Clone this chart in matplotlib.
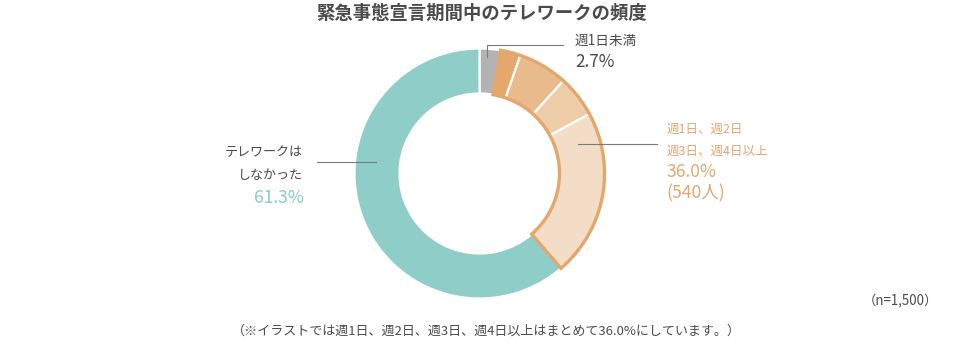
import matplotlib
matplotlib.use("Agg")
import matplotlib.pyplot as plt

plt.rcParams['font.family'] = ['Noto Sans CJK JP', 'DejaVu Sans']

# Data
title = "緊急事態宣言期間中のテレワークの頻度"
segment_labels = ["週1日未満", "週1日", "週2日", "週3日", "週4日以上", "テレワークはしなかった"]
segment_values = [2.7, 2.6, 6.4, 5.4, 21.6, 61.3]
group_labels = ["週1日未満", "週1日以上", "テレワークはしなかった"]
group_values = [2.7, 36.0, 61.3]
group_count = 540
sample_size = "1,500"

segment_colors = ["#B3B3B3", "#E4A86C", "#E9BA8B", "#EECCA8", "#F4DDC6", "#8ECDC8"]
ORANGE = "#E3A66B"
ORANGE_TEXT = "#E2A670"
TEAL_TEXT = "#86CBC5"
DARK = "#4A4A4A"
LINE = "#7A7A7A"

W, H = 962, 343
fig = plt.figure(figsize=(W / 100, H / 100), dpi=100)
ax = fig.add_axes([0, 0, 1, 1])

cx, cy = 479.5, H - 173.5
R = 125
ring = 0.36

wedges, _ = ax.pie(segment_values, colors=segment_colors, startangle=90, counterclock=False,
                   center=(cx, cy), radius=R, frame=True,
                   wedgeprops=dict(width=R * ring, edgecolor="white", linewidth=1.6))

# Outline around the combined weekly-telework group
outline, _ = ax.pie(group_values, colors=["none"] * 3, startangle=90, counterclock=False,
                    center=(cx, cy), radius=R, frame=True,
                    wedgeprops=dict(width=R * ring, linewidth=2.4))
for i, w in enumerate(outline):
    if i == 1:
        w.set_facecolor("none")
        w.set_edgecolor(ORANGE)
        w.set_joinstyle("miter")
    else:
        w.set_visible(False)

ax.set_xlim(0, W)
ax.set_ylim(0, H)
ax.set_aspect("equal")
ax.axis("off")


def py(y):
    return H - y


# Title
ax.text(482, py(13), title, ha="center", va="center", fontsize=13.2, fontweight="bold", color=DARK)

# Leader lines
ax.plot([486.7, 486.7, 563], [py(57), py(44.5), py(44.5)], color=LINE, lw=0.8)
ax.plot([578, 657], [py(144), py(144)], color=LINE, lw=0.8)
ax.plot([317, 376], [py(162), py(162)], color=LINE, lw=0.8)

# Label: under one day per week
ax.text(575, py(41), segment_labels[0], ha="left", va="center", fontsize=9.8, color=DARK)
ax.text(575, py(62), f"{group_values[0]}%", ha="left", va="center", fontsize=12.3, color=DARK)

# Label: weekly telework group
ax.text(667, py(129), "週1日、週2日", ha="left", va="center", fontsize=9, color=ORANGE_TEXT)
ax.text(667, py(151), "週3日、週4日以上", ha="left", va="center", fontsize=9, color=ORANGE_TEXT)
ax.text(667, py(172), f"{group_values[1]:.1f}%", ha="left", va="center", fontsize=12.6,
        color=ORANGE_TEXT)
ax.text(666, py(193), f"({group_count}人)", ha="left", va="center", fontsize=12.6,
        color=ORANGE_TEXT)

# Label: no telework
ax.text(303, py(153), "テレワークは", ha="right", va="center", fontsize=9.4, color=DARK)
ax.text(303, py(176), "しなかった", ha="right", va="center", fontsize=9.4, color=DARK)
ax.text(304, py(198), f"{group_values[2]}%", ha="right", va="center", fontsize=12.6,
        color=TEAL_TEXT)

# Sample size and note
ax.text(938, py(301), f"（n={sample_size}）", ha="right", va="center", fontsize=9.6, color=DARK)
ax.text(232, py(331), "（※イラストでは週1日、週2日、週3日、週4日以上はまとめて36.0%にしています。）",
        ha="left", va="center", fontsize=9.4, color=DARK)

fig.savefig("out.png", dpi=100, facecolor="white")
